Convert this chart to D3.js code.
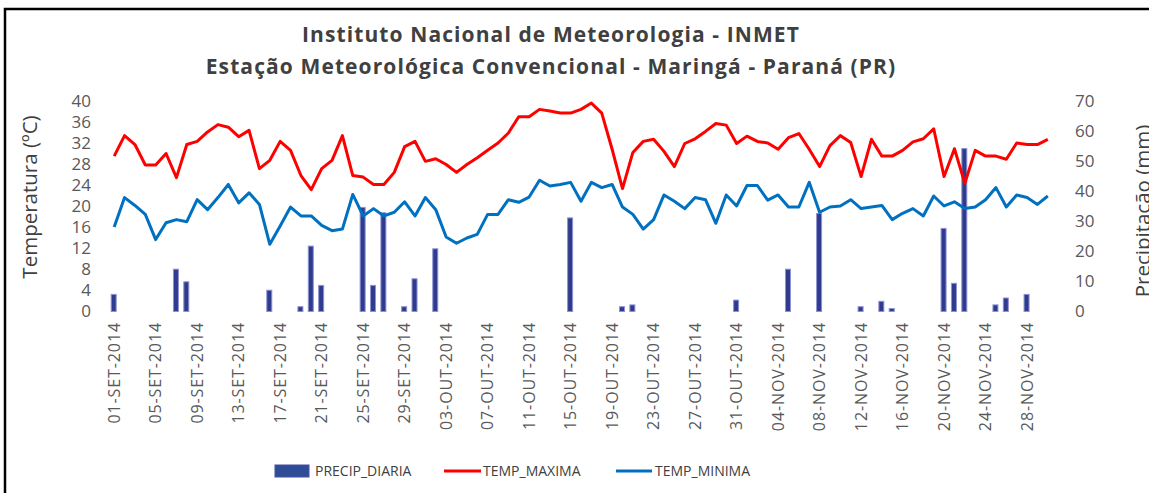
<!DOCTYPE html>
<html>
<head>
<meta charset="utf-8">
<script src="https://cdn.jsdelivr.net/npm/d3@7"></script>
<style>
    body { margin: 0; background: #fff; }
    text { font-family: 'Open Sans', 'DejaVu Sans', sans-serif; fill: #595959; }
    .title { font-weight: bold; font-size: 21px; letter-spacing: 1.1px; fill: #404040; text-anchor: middle; }
    .tick-y { font-size: 17px; }
    .tick-x { font-size: 16px; letter-spacing: 0.9px; }
    .axis-title { font-size: 20.5px; fill: #404040; }
    .legend { font-size: 14px; fill: #404040; }
</style>
</head>
<body>
<div id="chart"></div>
<script>
'use strict';
// Dados diários INMET - Maringá (PR), set a nov de 2014
const monthAbbr = ['JAN', 'FEV', 'MAR', 'ABR', 'MAI', 'JUN', 'JUL', 'AGO', 'SET', 'OUT', 'NOV', 'DEZ']
const days = d3.timeDay.range(new Date(2014, 8, 1), new Date(2014, 11, 1))
const dayLabels = days.map(d => `${String(d.getDate()).padStart(2, '0')}-${monthAbbr[d.getMonth()]}-${d.getFullYear()}`)

const tempMax = [29.6, 33.5, 31.8, 27.9, 27.9, 30.1, 25.5, 31.8, 32.4, 34.2,
    35.6, 35.1, 33.3, 34.5, 27.2, 28.8, 32.4, 30.7, 25.9, 23.2,
    27.2, 28.8, 33.5, 25.9, 25.6, 24.2, 24.2, 26.5, 31.4, 32.4,
    28.6, 29.1, 28.0, 26.5, 28.0, 29.3, 30.7, 32.1, 34.0, 37.1,
    37.1, 38.5, 38.2, 37.8, 37.8, 38.5, 39.7, 37.8, 30.9, 23.4,
    30.3, 32.4, 32.8, 30.5, 27.6, 32.0, 32.9, 34.3, 35.8, 35.5,
    32.0, 33.4, 32.4, 32.1, 30.9, 33.1, 33.9, 30.9, 27.6, 31.6,
    33.5, 32.2, 25.7, 32.8, 29.6, 29.6, 30.7, 32.3, 32.9, 34.8,
    25.7, 31.0, 24.4, 30.7, 29.6, 29.6, 29.0, 32.1, 31.8, 31.8, 32.8]

const tempMin = [16.1, 21.7, 20.2, 18.5, 13.7, 16.9, 17.5, 17.1, 21.3, 19.4,
    21.7, 24.2, 20.7, 22.6, 20.4, 12.8, 16.3, 19.9, 18.2, 18.2,
    16.4, 15.4, 15.7, 22.3, 18.2, 19.6, 18.2, 18.9, 20.9, 18.2,
    21.7, 19.4, 14.2, 13.0, 14.0, 14.7, 18.5, 18.5, 21.3, 20.8,
    21.8, 25.0, 23.9, 24.2, 24.6, 21.0, 24.6, 23.6, 24.2, 19.9,
    18.5, 15.7, 17.5, 22.2, 21.0, 19.6, 21.7, 21.3, 16.8, 22.2,
    20.1, 24.0, 24.0, 21.2, 22.2, 19.9, 19.9, 24.6, 18.9, 19.9,
    20.1, 21.3, 19.6, 19.9, 20.2, 17.5, 18.7, 19.6, 18.2, 22.0,
    20.1, 20.9, 19.6, 19.9, 21.3, 23.6, 19.9, 22.2, 21.7, 20.4, 22.0]

const precip = [5.7, 0, 0, 0, 0, 0, 14.1, 9.9, 0, 0,
    0, 0, 0, 0, 0, 7.1, 0, 0, 1.6, 21.8,
    8.7, 0, 0, 0, 34.7, 8.7, 32.9, 0, 1.6, 10.9,
    0, 20.9, 0, 0, 0, 0, 0, 0, 0, 0,
    0, 0, 0, 0, 31.2, 0, 0, 0, 0, 1.6,
    2.2, 0, 0, 0, 0, 0, 0, 0, 0, 0,
    3.8, 0, 0, 0, 0, 14.1, 0, 0, 32.7, 0,
    0, 0, 1.6, 0, 3.4, 1.0, 0, 0, 0, 0,
    27.7, 9.4, 54.3, 0, 0, 2.2, 4.5, 0, 5.7, 0, 0]

const tempTicks = [0, 4, 8, 12, 16, 20, 24, 28, 32, 36, 40]
const precipTicks = [0, 10, 20, 30, 40, 50, 60, 70]

const wwRed = '#ff0000'
const wwBlu = '#0070c0'
const barFill = '#2e3b8f'

const data = dayLabels.map((d, i) => ({ day: d, tmax: tempMax[i], tmin: tempMin[i], rain: precip[i] }))

const width = 1149
const height = 493
const svg = d3.select('#chart').append('svg')
    .attr('width', width)
    .attr('height', height)

const x = d3.scaleBand()
    .domain(dayLabels)
    .range([109, 1053])
    .padding(0)
const yTemp = d3.scaleLinear()
    .domain([0, 40])
    .range([311.5, 101.5])
const yRain = d3.scaleLinear()
    .domain([0, 70])
    .range([311.5, 101.5])
const cx = d => x(d) + x.bandwidth() / 2

svg.append('path') // Chart frame (only top and left edges visible)
    .attr('d', 'M5,500 L5,9 L1160,9')
    .attr('fill', 'none')
    .attr('stroke', '#000')
    .attr('stroke-width', 2.5)

svg.append('text') // Title line 1
    .attr('class', 'title')
    .attr('x', 551)
    .attr('y', 42)
    .text('Instituto Nacional de Meteorologia - INMET')
svg.append('text') // Title line 2
    .attr('class', 'title')
    .attr('x', 551)
    .attr('y', 74)
    .text('Estação Meteorológica Convencional - Maringá - Paraná (PR)')

const barW = 5
svg.append('g').selectAll('rect') // Daily precipitation bars
    .data(data.filter(d => d.rain > 0)).enter().append('rect')
    .attr('x', d => cx(d.day) - barW / 2 - 0.5)
    .attr('y', d => yRain(d.rain))
    .attr('width', barW)
    .attr('height', d => yRain(0) - yRain(d.rain))
    .attr('fill', barFill)
    .attr('stroke', '#8f92d0')
    .attr('stroke-width', 1)

const maxLine = d3.line()
    .x(d => cx(d.day))
    .y(d => yTemp(d.tmax))
const minLine = d3.line()
    .x(d => cx(d.day))
    .y(d => yTemp(d.tmin))

svg.append('path').datum(data) // Max temp line
    .attr('fill', 'none')
    .attr('stroke', wwRed)
    .attr('stroke-width', 3)
    .attr('stroke-linejoin', 'round')
    .attr('d', maxLine)
svg.append('path').datum(data) // Min temp line
    .attr('fill', 'none')
    .attr('stroke', wwBlu)
    .attr('stroke-width', 3)
    .attr('stroke-linejoin', 'round')
    .attr('d', minLine)

const leftAxis = svg.append('g') // Left axis (temperature)
    .attr('transform', 'translate(98,0)')
    .call(d3.axisLeft(yTemp).tickValues(tempTicks).tickSize(0).tickPadding(7))
const rightAxis = svg.append('g') // Right axis (precipitation)
    .attr('transform', 'translate(1068,0)')
    .call(d3.axisRight(yRain).tickValues(precipTicks).tickSize(0).tickPadding(7))
leftAxis.select('.domain').remove()
rightAxis.select('.domain').remove()
svg.selectAll('.tick text')
    .attr('class', 'tick-y')
    .attr('font-family', null)
    .attr('font-size', null)
    .attr('fill', null)

svg.append('g').selectAll('text') // X labels every 4 days
    .data(dayLabels.filter((d, i) => i % 4 === 0)).enter().append('text')
    .attr('class', 'tick-x')
    .attr('transform', d => `translate(${cx(d) + 5.5}, 322) rotate(-90)`)
    .style('text-anchor', 'end')
    .text(d => d)

svg.append('text') // Left axis title
    .attr('class', 'axis-title')
    .attr('transform', 'translate(37, 197) rotate(-90)')
    .style('text-anchor', 'middle')
    .text('Temperatura (ºC)')
svg.append('text') // Right axis title (cut at the edge)
    .attr('class', 'axis-title')
    .attr('transform', 'translate(1150, 211) rotate(-90)')
    .style('text-anchor', 'middle')
    .text('Precipitação (mm)')

const legend = svg.append('g')
legend.append('rect') // Legend bar swatch
    .attr('x', 275).attr('y', 465)
    .attr('width', 34).attr('height', 12)
    .attr('fill', '#2f4c96')
    .attr('stroke', '#4a4aa8')
legend.append('text')
    .attr('class', 'legend')
    .attr('x', 315).attr('y', 476)
    .text('PRECIP_DIARIA')
legend.append('line') // Legend max swatch
    .attr('x1', 444).attr('x2', 481)
    .attr('y1', 471).attr('y2', 471)
    .attr('stroke', wwRed).attr('stroke-width', 3)
legend.append('text')
    .attr('class', 'legend')
    .attr('x', 483).attr('y', 476)
    .text('TEMP_MAXIMA')
legend.append('line') // Legend min swatch
    .attr('x1', 616).attr('x2', 652)
    .attr('y1', 471).attr('y2', 471)
    .attr('stroke', wwBlu).attr('stroke-width', 3)
legend.append('text')
    .attr('class', 'legend')
    .attr('x', 655).attr('y', 476)
    .text('TEMP_MINIMA')
</script>
</body>
</html>
